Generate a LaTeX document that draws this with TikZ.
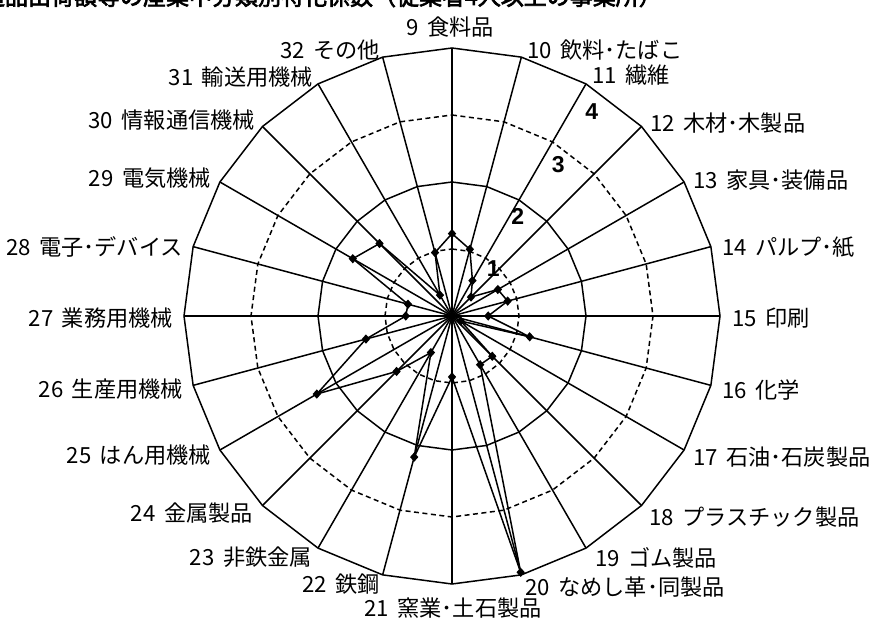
\documentclass[tikz,border=0pt]{standalone}
\usepackage{fontspec}
\usetikzlibrary{shapes.geometric}
\setmainfont{Liberation Sans}
\newfontfamily\jp{Noto Sans CJK JP}
\newfontfamily\jpb[FakeBold=3]{Noto Sans CJK JP}
\newcommand\lsp{\hspace{0.38em}}
\begin{document}
\begin{tikzpicture}[x=1pt,y=1pt,
  gridsolid/.style={line width=1.5pt},
  griddash/.style={line width=1.5pt, dash pattern=on 5pt off 3.5pt},
  spoke/.style={line width=1.5pt},
  dataline/.style={line width=1.5pt, line join=round},
  mk/.style={diamond, fill=black, draw=none, inner sep=0pt, minimum width=8.5pt, minimum height=9.5pt},
  lab/.style={font=\jp\fontsize{22.2}{25}\selectfont, inner sep=0pt},
  axnum/.style={font=\bfseries\fontsize{23}{25}\selectfont, inner sep=0pt}]
\useasboundingbox (0,0) rectangle (872,619);
\clip (0,0) rectangle (872,619);
\node[font=\jpb\fontsize{23}{26}\selectfont, anchor=base east, inner sep=0pt] (title) at (662,614) {製造品出荷額等の産業中分類別特化係数（従業者4人以上の事業所）};
\begin{scope}[shift={(452,303)}]
  \coordinate (c) at (0,0);
  \foreach \r/\st in {67/griddash, 134/gridsolid, 201/griddash, 268/gridsolid} {
    \draw[\st] (90:\r) \foreach \k in {1,...,23} { -- ({90-15*\k}:\r) } -- cycle;
  }
  \foreach \k in {0,...,23} {
    \coordinate (o\k) at ({90-15*\k}:268);
    \draw[spoke] (c) -- (o\k);
  }
  \foreach \k/\v in {0/1.23, 1/1.03, 2/0.61, 3/0.40, 4/0.79, 5/0.86, 6/0.54, 7/1.20,
                     8/0.15, 9/0.85, 10/0.84, 11/3.96, 12/0.91, 13/2.18, 14/0.63, 15/1.17,
                     16/2.33, 17/1.33, 18/0.69, 19/0.68, 20/1.71, 21/1.53, 22/0.36, 23/0.98} {
    \node[mk] (p\k) at ({90-15*\k}:{\v*67}) {};
  }
  \draw[dataline] (p0.center) \foreach \k in {1,...,23} { -- (p\k.center) } -- cycle;
\end{scope}
% axis value labels
\node[axnum] (n1) at (493.3,350.7) {1};
\node[axnum] (n2) at (517.7,402.3) {2};
\node[axnum] (n3) at (558.3,454) {3};
\node[axnum] (n4) at (591.7,507.3) {4};
% category labels
\node[lab, anchor=center] (l9) at (450,592) {9\lsp 食料品};
\node[lab, anchor=west] (l10) at (527,569) {10\lsp 飲料･たばこ};
\node[lab, anchor=west] (l11) at (592,544) {11\lsp 繊維};
\node[lab, anchor=west] (l12) at (650,496) {12\lsp 木材･木製品};
\node[lab, anchor=west] (l13) at (693,439) {13\lsp 家具･装備品};
\node[lab, anchor=west] (l14) at (722,372) {14\lsp パルプ･紙};
\node[lab, anchor=west] (l15) at (732,301) {15\lsp 印刷};
\node[lab, anchor=west] (l16) at (722,229) {16\lsp 化学};
\node[lab, anchor=west] (l17) at (693,162) {17\lsp 石油･石炭製品};
\node[lab, anchor=west] (l18) at (649,102) {18\lsp プラスチック製品};
\node[lab, anchor=west] (l19) at (595,61) {19\lsp ゴム製品};
\node[lab, anchor=west] (l20) at (525,32) {20\lsp なめし革･同製品};
\node[lab, anchor=center] (l21) at (453,11) {21\lsp 窯業･土石製品};
\node[lab, anchor=east] (l22) at (380,35) {22\lsp 鉄鋼};
\node[lab, anchor=east] (l23) at (312,62) {23\lsp 非鉄金属};
\node[lab, anchor=east] (l24) at (253,106) {24\lsp 金属製品};
\node[lab, anchor=east] (l25) at (211,164) {25\lsp はん用機械};
\node[lab, anchor=east] (l26) at (183,229.5) {26\lsp 生産用機械};
\node[lab, anchor=east] (l27) at (173,301) {27\lsp 業務用機械};
\node[lab, anchor=east] (l28) at (183,372.5) {28\lsp 電子･デバイス};
\node[lab, anchor=east] (l29) at (211,441) {29\lsp 電気機械};
\node[lab, anchor=east] (l30) at (255,498.5) {30\lsp 情報通信機械};
\node[lab, anchor=east] (l31) at (313,542) {31\lsp 輸送用機械};
\node[lab, anchor=east] (l32) at (380,569) {32\lsp その他};
\end{tikzpicture}
\end{document}
